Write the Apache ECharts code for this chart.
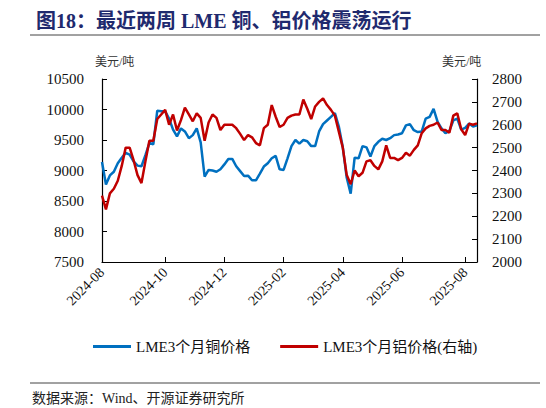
<!DOCTYPE html>
<html><head><meta charset="utf-8">
<script src="https://cdn.jsdelivr.net/npm/echarts@6/dist/echarts.min.js"></script>
<style>html,body{margin:0;padding:0;background:#fff}#c{width:546px;height:408px}</style>
</head><body><div id="c"></div>
<script>
// Dates: one sample every 4 calendar days starting 2024-08-01
var startDate = '2024-08-01';
var stepDays = 4;
var tickLabels = ['2024-08','2024-10','2024-12','2025-02','2025-04','2025-06','2025-08'];
// LME 3-month copper (USD/t, left axis)
var copper = [9140,8770,8920,8980,9120,9210,9290,9260,9150,9080,9070,9250,9450,9430,9980,9970,
9970,9850,9670,9560,9690,9640,9530,9580,9690,9460,8900,9010,9000,8980,9020,9100,
9190,9190,9070,8990,8910,8915,8840,8840,8950,9065,9120,9200,9240,9020,9010,9200,
9400,9500,9440,9500,9480,9400,9400,9640,9760,9820,9880,9940,9720,9380,8880,8620,
9210,9200,9400,9380,9230,9400,9470,9520,9500,9530,9580,9590,9610,9740,9760,9660,
9630,9640,9850,9880,10010,9800,9690,9610,9650,9820,9850,9670,9700,9770,9720,9740];
// LME 3-month aluminium (USD/t, right axis)
var aluminium = [2290,2230,2300,2320,2355,2420,2500,2500,2445,2380,2345,2440,2530,2530,2625,2645,
2665,2600,2645,2575,2620,2675,2645,2615,2650,2630,2530,2610,2645,2630,2577,2600,
2600,2600,2585,2560,2533,2555,2545,2520,2510,2585,2600,2686,2635,2590,2600,2630,
2640,2645,2645,2710,2670,2625,2680,2700,2715,2686,2665,2640,2570,2500,2380,2340,
2400,2375,2390,2440,2445,2420,2405,2440,2510,2455,2455,2445,2455,2478,2465,2490,
2510,2563,2584,2595,2600,2610,2577,2577,2565,2640,2650,2580,2555,2605,2600,2606];

var dates = [];
var t0 = Date.parse(startDate + 'T00:00:00Z');
for (var i = 0; i < copper.length; i++) {
  dates.push(new Date(t0 + i * stepDays * 86400000).toISOString().slice(0, 10));
}
function ym(s){ return s.slice(0,7); }
function isTick(idx){
  var m = ym(dates[idx]);
  if (tickLabels.indexOf(m) < 0) return false;
  return idx === 0 || ym(dates[idx-1]) !== m;
}
function plain(v){ return String(v); }
var serif = '"Liberation Serif","Times New Roman","Noto Sans CJK SC",serif';
var cjk = '"Liberation Serif","Noto Sans CJK SC",sans-serif';

var chart = echarts.init(document.getElementById('c'), null, {renderer:'svg'});
chart.setOption({
  animation: false,
  backgroundColor: '#fff',
  title: {
    text: '图18：最近两周 LME 铜、铝价格震荡运行',
    left: 31, top: 6,
    textStyle: {fontSize: 20, fontWeight: 'bold', color: '#1F2A6E', fontFamily: cjk}
  },
  graphic: [
    {type:'line', shape:{x1:30,y1:35,x2:540,y2:35}, style:{stroke:'#444',lineWidth:1}},
    {type:'line', shape:{x1:30,y1:383,x2:540,y2:383}, style:{stroke:'#444',lineWidth:1}},
    {type:'text', left:95, top:56, style:{text:'美元/吨', fontSize:12, fill:'#333', fontFamily:cjk}},
    {type:'text', left:442, top:56, style:{text:'美元/吨', fontSize:12, fill:'#333', fontFamily:cjk}},
    {type:'text', left:32, top:391, style:{text:'数据来源：Wind、开源证券研究所', fontSize:14, fill:'#222', fontFamily:cjk}}
  ],
  legend: {
    top: 334, left: 88,
    itemWidth: 38, itemHeight: 3, itemGap: 30,
    icon: 'rect',
    textStyle: {fontSize: 15, color: '#111', fontFamily: cjk},
    data: ['LME3个月铜价格', 'LME3个月铝价格(右轴)']
  },
  grid: {left: 102, right: 69, top: 79, bottom: 146},
  xAxis: {
    type: 'category', data: dates, boundaryGap: false,
    axisLine: {lineStyle: {color: '#000', width: 1.2}},
    axisTick: {inside: true, length: 5, interval: function(idx){return isTick(idx);}, lineStyle:{color:'#000'}},
    axisLabel: {
      interval: function(idx){return isTick(idx);},
      formatter: function(v){return ym(v);},
      rotate: 45, fontSize: 14, color: '#111', fontFamily: serif, margin: 8
    }
  },
  yAxis: [
    {type:'value', min:7500, max:10500, interval:500,
     axisLine:{show:true, lineStyle:{color:'#000', width:1.2}},
     axisTick:{show:true, inside:true, length:5, lineStyle:{color:'#000'}},
     splitLine:{show:false},
     axisLabel:{fontSize:15, color:'#111', fontFamily:serif, margin:18, formatter: plain}},
    {type:'value', min:2000, max:2800, interval:100, position:'right',
     axisLine:{show:true, lineStyle:{color:'#000', width:1.2}},
     axisTick:{show:true, inside:true, length:5, lineStyle:{color:'#000'}},
     splitLine:{show:false},
     axisLabel:{fontSize:15, color:'#111', fontFamily:serif, margin:15, formatter: plain}}
  ],
  series: [
    {name:'LME3个月铜价格', type:'line', data:copper, yAxisIndex:0, showSymbol:false,
     lineStyle:{color:'#0070C0', width:2.5}, itemStyle:{color:'#0070C0'}},
    {name:'LME3个月铝价格(右轴)', type:'line', data:aluminium, yAxisIndex:1, showSymbol:false,
     lineStyle:{color:'#C00000', width:2.5}, itemStyle:{color:'#C00000'}}
  ]
});
</script></body></html>
